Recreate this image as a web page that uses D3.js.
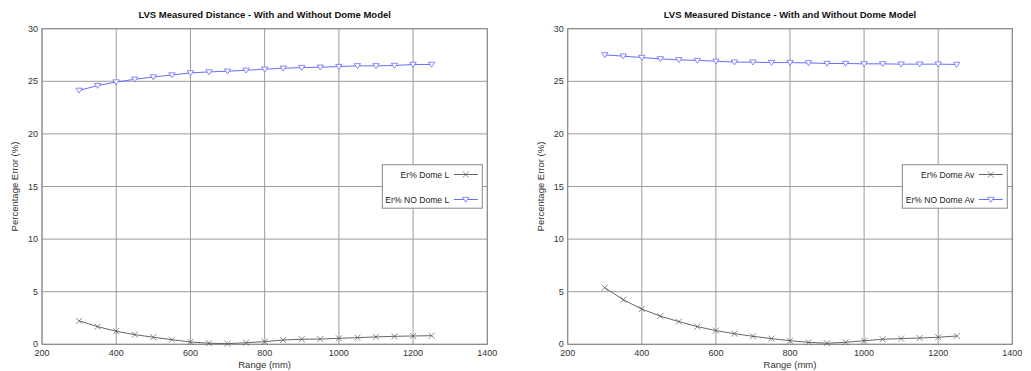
<!DOCTYPE html>
<html><head><meta charset="utf-8">
<script src="https://cdn.jsdelivr.net/npm/d3@7/dist/d3.min.js"></script>
<style>body{margin:0;background:#fff;font-family:"Liberation Sans",Arial,sans-serif}</style>
</head><body><svg id="c" width="1031" height="371"></svg>
<script>
const ranges = [300,350,400,450,500,550,600,650,700,750,800,850,900,950,1000,1050,1100,1150,1200,1250];
const domeL   = [2.23,1.68,1.24,0.92,0.67,0.44,0.22,0.10,0.06,0.15,0.25,0.41,0.48,0.50,0.57,0.63,0.70,0.76,0.79,0.82];
const noDomeL = [24.14,24.59,24.93,25.19,25.41,25.60,25.80,25.89,25.96,26.05,26.15,26.24,26.30,26.34,26.40,26.47,26.47,26.50,26.60,26.60];
const domeAv   = [5.38,4.24,3.35,2.68,2.16,1.68,1.30,1.01,0.76,0.54,0.34,0.19,0.10,0.19,0.34,0.48,0.54,0.60,0.67,0.79];
const noDomeAv = [27.51,27.39,27.26,27.13,27.04,26.98,26.91,26.82,26.82,26.78,26.78,26.75,26.69,26.69,26.66,26.66,26.63,26.63,26.63,26.60];
const xTicks = [200,400,600,800,1000,1200,1400];
const yTicks = [0,5,10,15,20,25,30];
const title = "LVS Measured Distance - With and Without Dome Model";
const xLabel = "Range (mm)";
const yLabel = "Percentage Error (%)";

const svg = d3.select("#c");
const blue = "#6b6bff", dark = "#555";

function chart(left, right, s1, s2, n1, n2) {
  const top = 28.7, bottom = 344.3;
  const x = d3.scaleLinear().domain([200,1400]).range([left,right]);
  const y = d3.scaleLinear().domain([0,30]).range([bottom,top]);
  const g = svg.append("g");
  g.selectAll(".gx").data(xTicks).enter().append("line")
    .attr("x1",d=>x(d)).attr("x2",d=>x(d)).attr("y1",top).attr("y2",bottom)
    .attr("stroke","#9a9a9a").attr("stroke-width",1);
  g.selectAll(".gy").data(yTicks).enter().append("line")
    .attr("y1",d=>y(d)).attr("y2",d=>y(d)).attr("x1",left).attr("x2",right)
    .attr("stroke","#9a9a9a").attr("stroke-width",1);
  g.append("rect").attr("x",left).attr("y",top).attr("width",right-left).attr("height",bottom-top)
    .attr("fill","none").attr("stroke","#888");
  g.selectAll(".tx").data(xTicks).enter().append("text")
    .attr("x",d=>x(d)).attr("y",bottom+12).attr("text-anchor","middle")
    .attr("font-size",9).attr("fill","#333").text(d=>d);
  g.selectAll(".ty").data(yTicks).enter().append("text")
    .attr("x",left-4).attr("y",d=>y(d)+3).attr("text-anchor","end")
    .attr("font-size",9).attr("fill","#333").text(d=>d);
  g.append("text").attr("x",(left+right)/2).attr("y",18).attr("text-anchor","middle")
    .attr("font-size",9.5).attr("font-weight","bold").attr("fill","#111").text(title);
  g.append("text").attr("x",(left+right)/2).attr("y",368).attr("text-anchor","middle")
    .attr("font-size",9.5).attr("fill","#333").text(xLabel);
  g.append("text").attr("transform",`translate(${left-24},${(top+bottom)/2}) rotate(-90)`)
    .attr("text-anchor","middle").attr("font-size",9.5).attr("fill","#333").text(yLabel);

  const line = d3.line().x((d,i)=>x(ranges[i])).y(d=>y(d));
  const xMark = (sel,px,py)=>{
    sel.append("path").attr("d",`M${px-3},${py-3}L${px+3},${py+3}M${px-3},${py+3}L${px+3},${py-3}`)
      .attr("stroke",dark).attr("stroke-width",0.7).attr("fill","none");
  };
  const triMark = (sel,px,py)=>{
    sel.append("path").attr("d",`M${px-3.2},${py-2.2}L${px+3.2},${py-2.2}L${px},${py+2.8}Z`)
      .attr("stroke",blue).attr("stroke-width",0.8).attr("fill","#fff");
  };
  g.append("path").attr("d",line(s1)).attr("fill","none").attr("stroke",dark).attr("stroke-width",0.9);
  s1.forEach((v,i)=>xMark(g,x(ranges[i]),y(v)));
  g.append("path").attr("d",line(s2)).attr("fill","none").attr("stroke",blue).attr("stroke-width",1);
  s2.forEach((v,i)=>triMark(g,x(ranges[i]),y(v)));

  const lw = n1.length > 10 ? 105 : 100;
  const lx = right - 5 - lw, ly = 164.7;
  g.append("rect").attr("x",lx).attr("y",ly).attr("width",lw).attr("height",43.5)
    .attr("fill","#fff").attr("stroke","#888");
  const tEnd = lx + lw - 33, s0 = lx + lw - 28.5, sE = lx + lw - 4.5;
  [[n1,dark,xMark,174.5],[n2,blue,triMark,199.5]].forEach(([n,c,m,yy])=>{
    g.append("text").attr("x",tEnd).attr("y",yy+3).attr("text-anchor","end")
      .attr("font-size",8.6).attr("fill","#222").text(n);
    g.append("line").attr("x1",s0).attr("x2",sE).attr("y1",yy).attr("y2",yy)
      .attr("stroke",c).attr("stroke-width",c===blue?1:0.9);
    m(g,(s0+sE)/2,yy);
  });
}
chart(42, 487.3, domeL, noDomeL, "Er% Dome L", "Er% NO Dome L");
chart(567.7, 1012.3, domeAv, noDomeAv, "Er% Dome Av", "Er% NO Dome Av");
</script></body></html>
